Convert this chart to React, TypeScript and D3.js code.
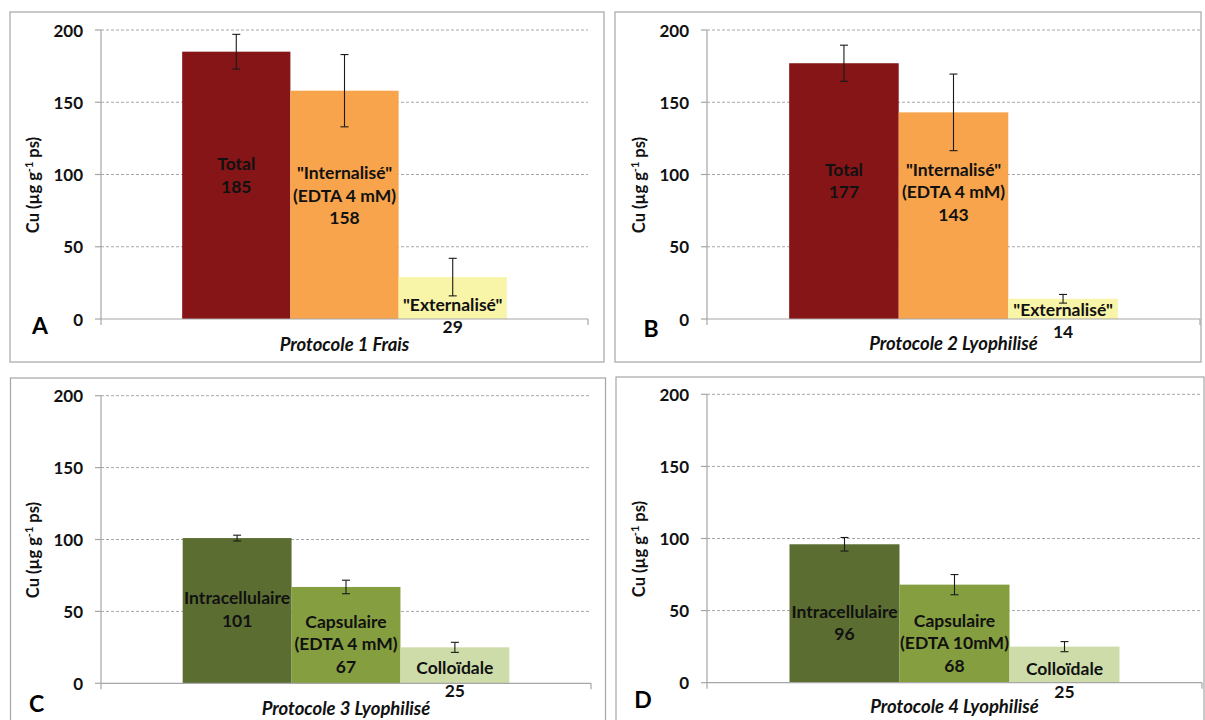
import React from "react";
import * as d3 from "d3";

// ---------- data ----------
const panelLetters = ["A", "B", "C", "D"];
const protocols = [
  "Protocole 1 Frais",
  "Protocole 2 Lyophilisé",
  "Protocole 3 Lyophilisé",
  "Protocole 4 Lyophilisé",
];
const yTicks = [0, 50, 100, 150, 200];
const yTitleMain = "Cu (µg g";
const yTitleSup = "-1";
const yTitleEnd = " ps)";

const namesAB = [["Total"], ['"Internalisé"', "(EDTA 4 mM)"], ['"Externalisé"']];
const namesC = [["Intracellulaire"], ["Capsulaire", "(EDTA 4 mM)"], ["Colloïdale"]];
const namesD = [["Intracellulaire"], ["Capsulaire", "(EDTA 10mM)"], ["Colloïdale"]];

const valuesA = [185, 158, 29];
const errorsA = [12, 25, 13];
const valuesB = [177, 143, 14];
const errorsB = [12.5, 26.5, 3];
const valuesC = [101, 67, 25];
const errorsC = [2, 4.7, 3.5];
const valuesD = [96, 68, 25];
const errorsD = [4.7, 7, 3.5];

const colorsAB = ["#861518", "#f7a44c", "#f8f4a8"];
const colorsCD = ["#5b6d31", "#859e3f", "#cddca9"];

// ---------- layout (positions / styles) ----------
const layout = [
  { border: [10, 12, 604, 362], plot: [101, 588, 30, 319], letter: [40, 334], xlabY: 351, labelDy: [-10, -9.5], smallDy: -3.5 },
  { border: [615, 12, 1201, 362], plot: [707, 1200, 30, 319], letter: [651, 337], xlabY: 350, labelDy: [-10.5, -23.7], smallDy: 1.5 },
  { border: [10.5, 378, 605.5, 745], plot: [101, 591, 395.7, 683.3], letter: [36.5, 712], xlabY: 715, labelDy: [-1.7, 9], smallDy: -4.3 },
  { border: [616, 377, 1204, 745], plot: [707, 1202, 394.3, 682.7], letter: [643, 708], xlabY: 713, labelDy: [9, 9.4], smallDy: -2.7 },
];

const panelData = [
  { names: namesAB, values: valuesA, errors: errorsA, colors: colorsAB },
  { names: namesAB, values: valuesB, errors: errorsB, colors: colorsAB },
  { names: namesC, values: valuesC, errors: errorsC, colors: colorsCD },
  { names: namesD, values: valuesD, errors: errorsD, colors: colorsCD },
];

const FONT = "Lato, 'Open Sans', sans-serif";
const GRAY = "#a6a6a6";
const LINE_H = 22.5;
const LABEL_FS = 17.5;

function Panel({ i }: { i: number }) {
  const L = layout[i];
  const D = panelData[i];
  const [px0, px1, pyTop, pyBot] = L.plot;
  const y = d3.scaleLinear().domain([0, 200]).range([pyBot, pyTop]);
  const x = d3
    .scaleBand<number>()
    .domain(d3.range(D.values.length))
    .range([px0, px1])
    .paddingInner(0)
    .paddingOuter(0.75);
  const bw = x.bandwidth();
  const y0 = y(0);
  const [bx0, by0, bx1, by1] = L.border;

  return (
    <g>
      <rect x={bx0} y={by0} width={bx1 - bx0} height={by1 - by0} fill="#fff" stroke={GRAY} strokeWidth={1.2} />
      {/* gridlines */}
      {yTicks.filter((t) => t > 0).map((t) => (
        <line key={t} x1={px0} x2={px1} y1={y(t)} y2={y(t)} stroke={GRAY} strokeWidth={1} strokeDasharray="3,2" />
      ))}
      {/* y axis */}
      <line x1={px0} x2={px0} y1={y(200)} y2={y0} stroke={GRAY} strokeWidth={1.2} />
      {yTicks.map((t) => (
        <g key={t}>
          <line x1={px0 - 6} x2={px0} y1={y(t)} y2={y(t)} stroke={GRAY} strokeWidth={1.2} />
          <text x={px0 - 18} y={y(t) + 6.5} textAnchor="end" fontFamily={FONT} fontWeight={700} fontSize={17} fill="#111">
            {t}
          </text>
        </g>
      ))}
      {/* bars */}
      {D.values.map((v, k) => (
        <rect key={k} x={x(k)} y={y(v)} width={bw} height={y0 - y(v)} fill={D.colors[k]} />
      ))}
      {/* x axis */}
      <line x1={px0} x2={px1} y1={y0} y2={y0} stroke={GRAY} strokeWidth={1.2} />
      <line x1={px0} x2={px0} y1={y0} y2={y0 + 6} stroke={GRAY} strokeWidth={1.2} />
      <line x1={px1} x2={px1} y1={y0} y2={y0 + 6} stroke={GRAY} strokeWidth={1.2} />
      {/* error bars */}
      {D.values.map((v, k) => {
        const cx = (x(k) as number) + bw / 2;
        const e = D.errors[k];
        return (
          <g key={k} stroke="#1a1a1a" strokeWidth={1.1}>
            <line x1={cx} x2={cx} y1={y(v + e)} y2={y(v - e)} />
            <line x1={cx - 4} x2={cx + 4} y1={y(v + e)} y2={y(v + e)} />
            <line x1={cx - 4} x2={cx + 4} y1={y(v - e)} y2={y(v - e)} />
          </g>
        );
      })}
      {/* data labels */}
      {D.values.map((v, k) => {
        const cx = (x(k) as number) + bw / 2;
        const lines = [...D.names[k], String(v)];
        const barH = y0 - y(v);
        const center = barH < 50 ? y0 + L.smallDy : (y(v) + y0) / 2 + L.labelDy[k];
        const first = center - ((lines.length - 1) * LINE_H) / 2;
        return (
          <text key={k} textAnchor="middle" fontFamily={FONT} fontWeight={700} fontSize={LABEL_FS} fill="#111">
            {lines.map((s, j) => (
              <tspan key={j} x={cx} y={first + j * LINE_H + LABEL_FS * 0.36}>
                {s}
              </tspan>
            ))}
          </text>
        );
      })}
      {/* y title */}
      <text
        transform={`translate(${px0 - 62},${(pyTop + pyBot) / 2 + 10.5}) rotate(-90)`}
        textAnchor="middle"
        fontFamily={FONT}
        fontWeight={700}
        fontSize={16.5}
        fill="#111"
      >
        {yTitleMain}
        <tspan fontSize={11} dy={-6}>{yTitleSup}</tspan>
        <tspan dy={6}>{yTitleEnd}</tspan>
      </text>
      {/* x label */}
      <text x={(px0 + px1) / 2} y={L.xlabY} textAnchor="middle" fontFamily={FONT} fontWeight={700} fontStyle="italic" fontSize={18.5} fill="#111">
        {protocols[i]}
      </text>
      {/* panel letter */}
      <text x={L.letter[0]} y={L.letter[1]} textAnchor="middle" fontFamily={FONT} fontWeight={700} fontSize={23} fill="#000">
        {panelLetters[i]}
      </text>
    </g>
  );
}

export default function App() {
  return (
    <svg width={1205} height={720} style={{ position: "absolute", left: 0, top: 0, background: "#fff" }}>
      <rect x={0} y={0} width={1205} height={720} fill="#fff" />
      {layout.map((_, i) => (
        <Panel key={i} i={i} />
      ))}
    </svg>
  );
}
